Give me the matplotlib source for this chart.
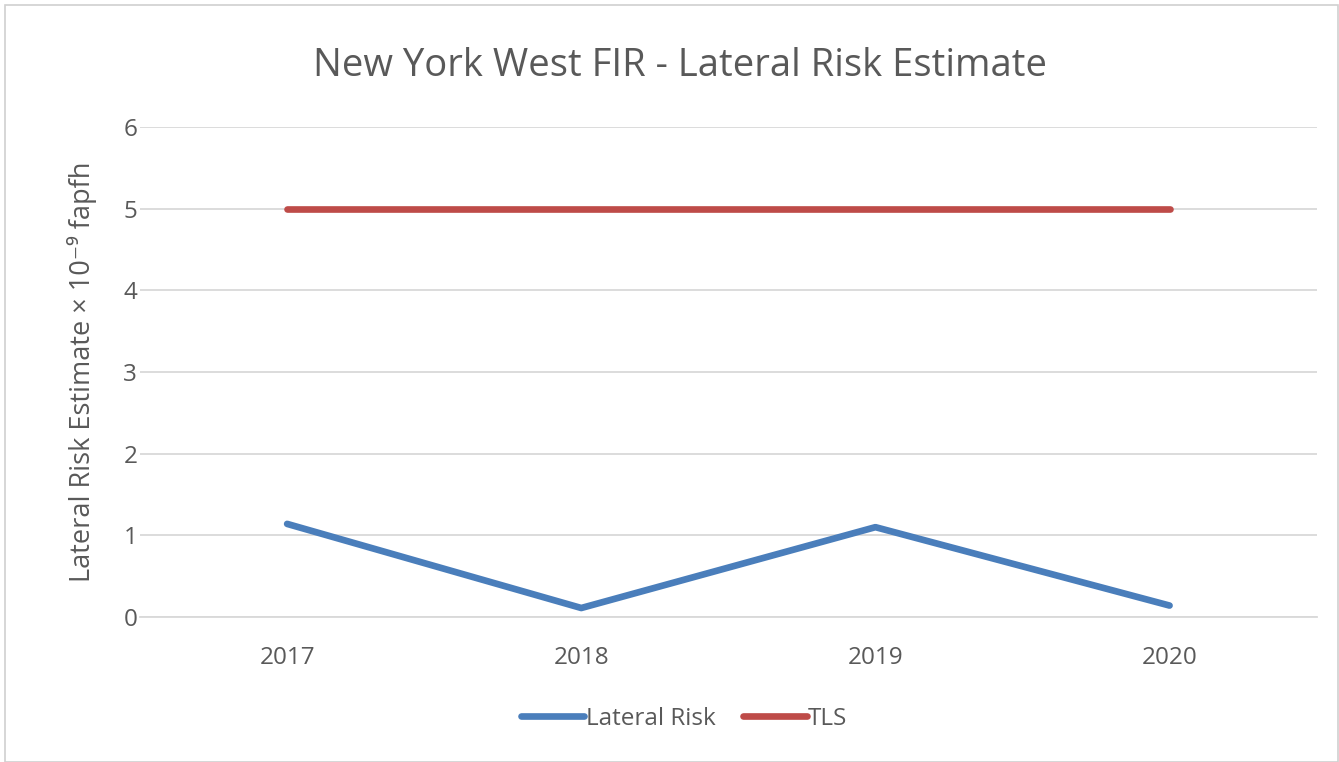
import matplotlib
matplotlib.use("Agg")
import matplotlib.pyplot as plt
from matplotlib.patches import Rectangle

years = ["2017", "2018", "2019", "2020"]
lateral_risk = [1.14, 0.11, 1.10, 0.14]
tls = [5, 5, 5, 5]
yticks = [0, 1, 2, 3, 4, 5, 6]

plt.rcParams['font.family'] = ['Open Sans', 'DejaVu Sans']
grey = '#595959'

fig = plt.figure(figsize=(13.39, 7.62), dpi=100)
fig.patches.append(Rectangle((0.004, 0.0), 0.995, 0.993, transform=fig.transFigure,
                             fill=False, edgecolor='#D0D0D0', linewidth=1.2))
ax = fig.add_axes([0.1046, 0.1903, 0.8787, 0.643])
x = list(range(len(years)))
ax.plot(x, lateral_risk, color='#4A7EBB', linewidth=4.8, solid_capstyle='round', label='Lateral Risk', zorder=3)
ax.plot(x, tls, color='#BE4B48', linewidth=4.8, solid_capstyle='round', label='TLS', zorder=3)
ax.set_xlim(-0.5, 3.5)
ax.set_ylim(0, 6)
ax.set_yticks(yticks)
ax.set_xticks(x)
ax.set_xticklabels(years)
ax.grid(axis='y', color='#D9D9D9', linewidth=1.3)
ax.set_axisbelow(True)
for s in ['top', 'right', 'left']:
    ax.spines[s].set_visible(False)
ax.spines['bottom'].set_color('#D9D9D9')
ax.spines['bottom'].set_linewidth(1.3)
ax.tick_params(axis='both', length=0, labelsize=17.5, labelcolor=grey)
ax.tick_params(axis='x', pad=21)
ax.tick_params(axis='y', pad=2)
ax.set_ylabel('Lateral Risk Estimate × 10⁻⁹ fapfh', fontsize=19.5, color=grey, labelpad=19)
fig.text(0.508, 0.914, 'New York West FIR - Lateral Risk Estimate', ha='center', va='center',
         fontsize=27.5, color=grey)
fig.legend(loc='center', bbox_to_anchor=(0.511, 0.057), ncol=2, frameon=False, fontsize=17.5,
           labelcolor=grey, handlelength=2.6, handletextpad=0.05, columnspacing=1.15)
fig.savefig('out.png', dpi=100)
